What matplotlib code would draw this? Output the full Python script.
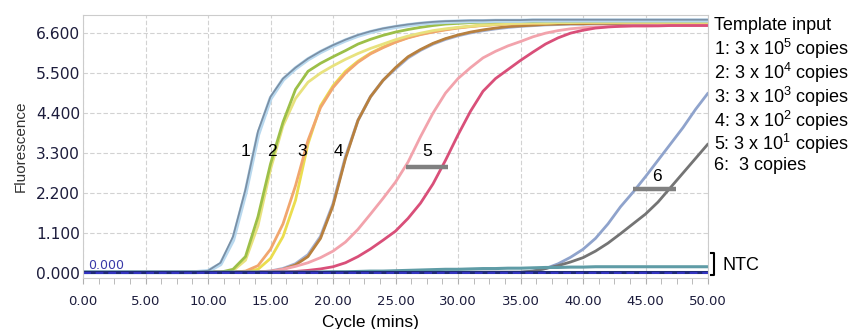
import numpy as np
import matplotlib
matplotlib.use('Agg')
import matplotlib.pyplot as plt
import matplotlib.ticker as mticker

plt.rcParams['mathtext.fontset'] = 'custom'
plt.rcParams['mathtext.rm'] = 'Liberation Sans'
plt.rcParams['mathtext.it'] = 'Liberation Sans'

# Fluorescence, one value per minute (0..50)
minutes = list(range(0, 51))

c1a = [0.02]*10 + [0.06, 0.28, 1.0, 2.3, 3.9, 4.85, 5.35, 5.65, 5.9, 6.1, 6.27, 6.42, 6.55, 6.65, 6.73, 6.79,
                   6.84, 6.88, 6.91, 6.93, 6.94, 6.95, 6.95, 6.96, 6.96, 6.96, 6.97, 6.97, 6.97, 6.97, 6.97,
                   6.97, 6.97, 6.97, 6.97, 6.97, 6.97, 6.97, 6.97, 6.97, 6.97]
c1b = [0.02]*10 + [0.05, 0.24, 0.9, 2.2, 3.8, 4.8, 5.32, 5.63, 5.88, 6.08, 6.25, 6.4, 6.53, 6.63, 6.71, 6.77,
                   6.82, 6.86, 6.89, 6.91, 6.92, 6.93, 6.93, 6.94, 6.94, 6.94, 6.95, 6.95, 6.95, 6.95, 6.95,
                   6.95, 6.95, 6.95, 6.95, 6.95, 6.95, 6.95, 6.95, 6.95, 6.95]
c2a = [0.02]*12 + [0.1, 0.45, 1.55, 3.0, 4.15, 5.05, 5.55, 5.77, 5.95, 6.12, 6.3, 6.43, 6.54, 6.63, 6.7,
                   6.76, 6.81, 6.85, 6.87, 6.89, 6.9, 6.91, 6.92, 6.92, 6.92, 6.93, 6.93, 6.93, 6.93, 6.93,
                   6.93, 6.93, 6.93, 6.93, 6.93, 6.93, 6.93, 6.93, 6.93]
c2b = [0.02]*12 + [0.06, 0.35, 1.3, 2.85, 4.05, 4.8, 5.25, 5.5, 5.7, 5.88, 6.04, 6.18, 6.3, 6.42, 6.52,
                   6.6, 6.67, 6.72, 6.76, 6.79, 6.82, 6.84, 6.86, 6.87, 6.88, 6.88, 6.89, 6.89, 6.9, 6.9,
                   6.9, 6.9, 6.9, 6.9, 6.9, 6.9, 6.9, 6.9, 6.9]
c3a = [0.02]*13 + [0.05, 0.2, 0.65, 1.35, 2.4, 3.65, 4.55, 5.1, 5.5, 5.8, 6.03, 6.2, 6.35, 6.47, 6.56,
                   6.63, 6.69, 6.74, 6.78, 6.81, 6.83, 6.85, 6.86, 6.87, 6.88, 6.89, 6.89, 6.9, 6.9, 6.9,
                   6.9, 6.9, 6.9, 6.9, 6.9, 6.9, 6.9, 6.9]
c3b = [0.02]*13 + [0.04, 0.1, 0.4, 1.0, 2.0, 3.55, 4.6, 5.15, 5.55, 5.83, 6.05, 6.22, 6.36, 6.48, 6.57,
                   6.64, 6.7, 6.75, 6.79, 6.82, 6.84, 6.86, 6.87, 6.88, 6.88, 6.89, 6.89, 6.89, 6.89, 6.89,
                   6.89, 6.89, 6.89, 6.89, 6.89, 6.89, 6.89, 6.89]
c4a = [0.02]*15 + [0.04, 0.1, 0.22, 0.45, 0.95, 1.85, 3.15, 4.2, 4.85, 5.3, 5.65, 5.95, 6.15, 6.32, 6.45,
                   6.55, 6.63, 6.69, 6.74, 6.78, 6.8, 6.82, 6.84, 6.85, 6.86, 6.86, 6.87, 6.87, 6.87, 6.88,
                   6.88, 6.88, 6.88, 6.88, 6.88, 6.88]
c4b = [0.02]*15 + [0.05, 0.12, 0.25, 0.5, 1.0, 1.9, 3.2, 4.2, 4.85, 5.3, 5.62, 5.92, 6.13, 6.3, 6.43,
                   6.53, 6.61, 6.67, 6.72, 6.76, 6.79, 6.81, 6.83, 6.84, 6.85, 6.85, 6.86, 6.86, 6.86, 6.86,
                   6.86, 6.86, 6.86, 6.86, 6.86, 6.86]
c5a = [0.02]*14 + [0.03, 0.05, 0.1, 0.18, 0.28, 0.42, 0.6, 0.85, 1.2, 1.62, 2.05, 2.5, 3.05, 3.75, 4.4,
                   4.95, 5.35, 5.65, 5.92, 6.1, 6.25, 6.37, 6.5, 6.6, 6.67, 6.72, 6.75, 6.77, 6.78, 6.79,
                   6.8, 6.8, 6.81, 6.81, 6.82, 6.82, 6.82]
c5b = [0.02]*16 + [0.03, 0.04, 0.07, 0.11, 0.17, 0.28, 0.45, 0.66, 0.9, 1.15, 1.5, 1.92, 2.45, 3.1, 3.8,
                   4.45, 5.0, 5.35, 5.6, 5.85, 6.08, 6.3, 6.47, 6.6, 6.68, 6.74, 6.77, 6.79, 6.8, 6.8,
                   6.8, 6.81, 6.81, 6.81, 6.81]
c6a = [0.02]*36 + [0.05, 0.12, 0.25, 0.43, 0.65, 0.95, 1.35, 1.82, 2.22, 2.65, 3.1, 3.55, 4.0, 4.5, 4.95]
c6b = [0.02]*36 + [0.05, 0.12, 0.2, 0.3, 0.42, 0.6, 0.82, 1.08, 1.35, 1.62, 1.95, 2.35, 2.75, 3.15, 3.55]
ntc1 = [0.02]*20 + [0.03, 0.03, 0.04, 0.05, 0.05, 0.06, 0.07, 0.08, 0.09, 0.1, 0.1, 0.11, 0.12, 0.12, 0.13,
                    0.13, 0.14, 0.15, 0.15, 0.16, 0.16, 0.17, 0.17, 0.17, 0.17, 0.17, 0.17, 0.17, 0.17,
                    0.17, 0.17]
ntc2 = [0.02]*51

series = [
    (c4b, '#a3b0d2', 2.2), (c4a, '#b8803e', 2.0),
    (c5a, '#f2a3ac', 2.0), (c5b, '#d94f79', 2.0),
    (c3b, '#ebdd4e', 2.0), (c3a, '#f1a66e', 2.0),
    (c2b, '#e8e27e', 2.0), (c2a, '#9cbf48', 2.0),
    (c1b, '#b8d8ee', 3.0), (c1a, '#7a90a6', 1.3),
    (c6a, '#8fa3cc', 2.0), (c6b, '#747474', 2.0),
    (ntc1, '#5f9ca6', 2.2), (ntc2, '#1f2a78', 2.2),
]

curve_labels = ['1', '2', '3', '4']
curve_label_x = [13.0, 15.1, 17.5, 20.4]

legend_lines = ['Template input',
                '1: 3 x 10$^5$ copies',
                '2: 3 x 10$^4$ copies',
                '3: 3 x 10$^3$ copies',
                '4: 3 x 10$^2$ copies',
                '5: 3 x 10$^1$ copies',
                '6:  3 copies']
legend_y = [25, 49, 73, 97, 121, 144, 166]  # pixel rows

fig = plt.figure(figsize=(8.48, 3.29), dpi=100)
ax = fig.add_axes([83 / 848, 1 - 278 / 329, 625 / 848, 263 / 329])

for vals, col, lw in series:
    ax.plot(minutes, vals, color=col, lw=lw, solid_capstyle='round')

# threshold line
ax.axhline(0.0, color='#3434c4', lw=1.4, dashes=(4, 2.5))
ax.text(0.4, 0.12, '0.000', color='#3a3aa8', fontsize=9, family='DejaVu Sans')

ax.set_xlim(0, 50)
ax.set_ylim(-0.14, 7.1)
ax.xaxis.set_major_locator(mticker.MultipleLocator(5))
ax.xaxis.set_minor_locator(mticker.MultipleLocator(1.25))
ax.xaxis.set_major_formatter(mticker.FormatStrFormatter('%.2f'))
ax.set_yticks([0, 1.1, 2.2, 3.3, 4.4, 5.5, 6.6])
ax.yaxis.set_major_formatter(mticker.FormatStrFormatter('%.3f'))

ax.tick_params(axis='x', which='both', direction='out', color='#b0b0b0', length=4,
               pad=8, labelsize=9.5, labelcolor='#1c1c3c')
ax.tick_params(axis='y', length=0, pad=2, labelsize=11.2, labelcolor='#1c1c3c')
ax.grid(True, color='#d2d2d2', lw=0.8, dashes=(4, 2))
for s in ax.spines.values():
    s.set_color('#cccccc')

ax.set_ylabel('Fluorescence', fontsize=11, color='#333333', family='Liberation Sans', labelpad=6)
fig.text(370 / 848, 1 - 322 / 329, 'Cycle (mins)', fontsize=12.5, family='Liberation Sans',
         ha='center', va='center')

# curve numbers
for lab, xv in zip(curve_labels, curve_label_x):
    ax.text(xv, 3.33, lab, fontsize=12.5, family='Liberation Sans', ha='center', va='center')
ax.text(27.5, 3.34, '5', fontsize=12.5, family='Liberation Sans', ha='center', va='center')
ax.text(45.9, 2.65, '6', fontsize=12.5, family='Liberation Sans', ha='center', va='center')
ax.plot([25.8, 29.2], [2.92, 2.92], color='#808080', lw=3.2, solid_capstyle='butt')
ax.plot([44.0, 47.4], [2.3, 2.3], color='#808080', lw=3.2, solid_capstyle='butt')

# right-hand legend text
for txt, py in zip(legend_lines, legend_y):
    fig.text(714 / 848, 1 - py / 329, txt, fontsize=13, family='Liberation Sans',
             ha='left', va='center')

# NTC bracket
ax.plot([50.25, 50.45, 50.45, 50.25], [0.55, 0.55, -0.05, -0.05], color='black', lw=1.5,
        clip_on=False)
fig.text(723 / 848, 1 - 265 / 329, 'NTC', fontsize=13, family='Liberation Sans',
         ha='left', va='center')

fig.savefig('out.png', dpi=100)
